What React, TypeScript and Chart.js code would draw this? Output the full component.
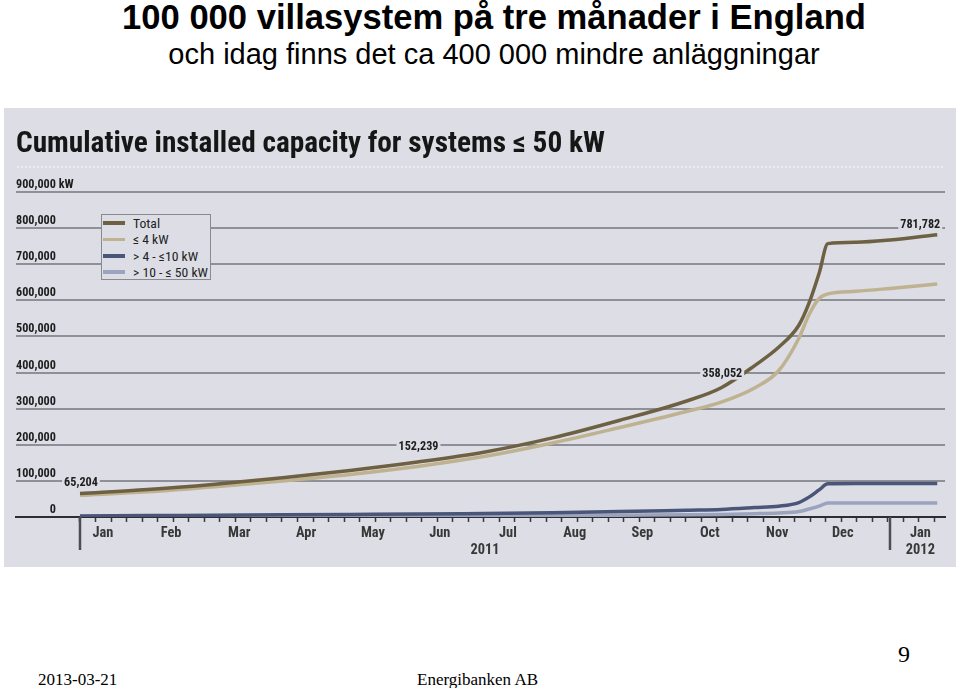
import React, { useEffect, useRef } from "react";
import { Chart, registerables } from "chart.js";

Chart.register(...registerables);

// ---------- texts ----------
const slideTitle = "100 000 villasystem på tre månader i England";
const slideSubtitle = "och idag finns det ca 400 000 mindre anläggningar";
const footerDate = "2013-03-21";
const footerCompany = "Energibanken AB";
const pageNumber = "9";
const chartTitle = "Cumulative installed capacity for systems ≤ 50 kW";

// ---------- series ----------
const seriesNames = ["Total", "≤ 4 kW", "> 4 - ≤10 kW", "> 10 - ≤ 50 kW"];
const seriesColors = ["#6e6042", "#beb291", "#4a5678", "#9ba3be"];

// x = months since 1 Jan 2011
const months = [0, 1, 2, 3, 4, 5, 6, 7, 8, 9, 9.5, 10, 10.35, 10.65, 10.8, 10.95, 11.08, 11.5, 12, 12.7];
const totalKW = [65204, 76000, 91000, 109000, 129000, 152239, 180000, 219000, 268000, 322000, 358052, 420000, 470000, 531000, 592000, 675000, 757000, 761000, 767000, 781782];
const upTo4KW = [60000, 70000, 84000, 100000, 118000, 140000, 168000, 205000, 248000, 293000, 318000, 358000, 405000, 495000, 560000, 605000, 618000, 625000, 633000, 645000];
const from4To10KW = [3000, 4000, 5000, 6000, 7000, 8000, 10000, 12000, 15000, 19000, 21000, 26000, 30000, 40000, 55000, 75000, 92000, 93000, 93000, 93000];
const from10To50KW = [1500, 2000, 2000, 2500, 3000, 3000, 3500, 4000, 5000, 6000, 7000, 9000, 11000, 15000, 22000, 30000, 39000, 39000, 39000, 39000];

// ---------- axes ----------
const yTickLabels = ["0", "100,000", "200,000", "300,000", "400,000", "500,000", "600,000", "700,000", "800,000", "900,000"];
const yUnit = "kW";
const monthLabels = ["Jan", "Feb", "Mar", "Apr", "May", "Jun", "Jul", "Aug", "Sep", "Oct", "Nov", "Dec", "Jan"];
const monthLabelPos = [0.34, 1.35, 2.36, 3.35, 4.34, 5.33, 6.34, 7.33, 8.33, 9.33, 10.33, 11.3, 12.45];
const yearLabels = ["2011", "2012"];
const yearLabelPos = [6.0, 12.45];
const yearBoundaries = [0, 12];

// ---------- annotations ----------
const annotationMonths = [0, 5, 9.5, 12.7];
const annotationValues = [65204, 152239, 358052, 781782];

// ---------- fonts ----------
function fontAvailable(name: string): boolean {
  const c = document.createElement("canvas").getContext("2d");
  if (!c) return false;
  const s = "abcdefghijklmnopqrstuvwxyzABCDEFGHIJKLMNOPQRSTUVWXYZ0123456789,";
  c.font = "40px monospace";
  const m = c.measureText(s).width;
  c.font = "40px serif";
  const se = c.measureText(s).width;
  c.font = `40px "${name}", monospace`;
  const a = c.measureText(s).width;
  c.font = `40px "${name}", serif`;
  const b = c.measureText(s).width;
  return a !== m || b !== se;
}
const candidates = ["Roboto Condensed", "Liberation Sans Narrow", "Arial Narrow", "Noto Sans Condensed", "Open Sans Condensed", "DejaVu Sans Condensed"];
const narrowName = candidates.find((n) => fontAvailable(n)) || "Roboto";
const NARROW = `"${narrowName}", "DejaVu Sans Condensed", sans-serif`;

function fitSize(text: string, weight: string, target: number, lo: number, hi: number): number {
  const c = document.createElement("canvas").getContext("2d");
  if (!c) return hi;
  c.font = `${weight} 20px ${NARROW}`;
  const w = c.measureText(text).width;
  const s = (20 * target) / w;
  return Math.max(lo, Math.min(hi, s));
}
const titleSize = fitSize(chartTitle, "bold", 589, 20, 30);
const yLabelSize = fitSize("900,000", "bold", 40, 9, 13);
const xLabelSize = fitSize("May", "bold", 24, 10, 14.5);
const annSize = fitSize("152,239", "bold", 40, 9, 13);
const legendSize = fitSize("> 10 - ≤ 50 kW", "normal", 75, 10, 14);

const BG = "#dcdde5";
const X_MIN = -0.948;
const X_MAX = 12.815;
const WEEK = 12 / 52.14;

function toXY(values: number[]) {
  return values.map((v, i) => ({ x: months[i], y: v }));
}

const labelMap: Record<string, string[]> = {};
monthLabelPos.forEach((p, i) => {
  labelMap[p.toFixed(3)] = [monthLabels[i]];
});
yearLabelPos.forEach((p, i) => {
  const k = p.toFixed(3);
  if (labelMap[k]) labelMap[k] = [labelMap[k][0], yearLabels[i]];
  else labelMap[k] = ["", yearLabels[i]];
});
const labelKeys = new Set(Object.keys(labelMap));

const decorPlugin = {
  id: "decor",
  afterDraw(chart: any) {
    const { ctx, chartArea, scales } = chart;
    const xs = scales.x;
    const ys = scales.y;
    ctx.save();
    // dotted separator under the chart title
    ctx.strokeStyle = "#f6f6fa";
    ctx.lineWidth = 1.6;
    ctx.setLineDash([1.6, 2.4]);
    ctx.beginPath();
    ctx.moveTo(chartArea.left + 1, chartArea.top - 25);
    ctx.lineTo(chartArea.right, chartArea.top - 25);
    ctx.stroke();
    ctx.setLineDash([]);

    // year dividers below the axis
    ctx.strokeStyle = "#4e4e52";
    ctx.lineWidth = 2.5;
    yearBoundaries.forEach((b) => {
      const px = xs.getPixelForValue(b);
      ctx.beginPath();
      ctx.moveTo(px, chartArea.bottom);
      ctx.lineTo(px, chartArea.bottom + 33);
      ctx.stroke();
    });

    // unit after the top y label
    ctx.font = `bold ${yLabelSize}px ${NARROW}`;
    ctx.fillStyle = "#1c1c1c";
    ctx.textAlign = "left";
    ctx.textBaseline = "middle";
    const topW = ctx.measureText(yTickLabels[yTickLabels.length - 1]).width;
    ctx.fillText(" " + yUnit, chartArea.left + topW, ys.getPixelForValue(900000) - 7);

    // value annotations
    const dy = [-11, -15, -14, -10];
    ctx.font = `bold ${annSize}px ${NARROW}`;
    annotationMonths.forEach((m, i) => {
      const px = xs.getPixelForValue(m);
      const py = ys.getPixelForValue(annotationValues[i]);
      const text = annotationValues[i].toLocaleString("en-US");
      const last = i === annotationMonths.length - 1;
      const w = ctx.measureText(text).width;
      const tx = last ? px + 3 - w : px + 1 - w / 2;
      const ty = py + dy[i];
      ctx.fillStyle = BG;
      ctx.fillRect(tx - 2, ty - 6, w + 4, 12);
      ctx.fillStyle = "#1e1e1e";
      ctx.textAlign = "left";
      ctx.fillText(text, tx, ty);
    });
    ctx.restore();
  },
};

export default function App() {
  const canvasRef = useRef<HTMLCanvasElement>(null);

  useEffect(() => {
    const canvas = canvasRef.current;
    if (!canvas) return;
    const datasets = [totalKW, upTo4KW, from4To10KW, from10To50KW].map((vals, i) => ({
      label: seriesNames[i],
      data: toXY(vals),
      borderColor: seriesColors[i],
      backgroundColor: seriesColors[i],
      borderWidth: 3.5,
      pointRadius: 0,
      cubicInterpolationMode: "monotone" as const,
      fill: false,
    }));

    const chart = new Chart(canvas, {
      type: "line",
      data: { datasets },
      options: {
        animation: false,
        responsive: true,
        maintainAspectRatio: false,
        layout: { padding: { left: 12, right: 11, top: 0, bottom: 8 } },
        plugins: {
          legend: { display: false },
          tooltip: { enabled: false },
          title: {
            display: true,
            text: chartTitle,
            align: "start",
            color: "#161616",
            font: { family: NARROW, size: titleSize, weight: "bold", lineHeight: "34px" },
            padding: { top: 20, bottom: 30 },
          },
        },
        scales: {
          x: {
            type: "linear",
            min: X_MIN,
            max: X_MAX,
            afterFit: (scale: any) => {
              scale.height = 42;
            },
            afterBuildTicks: (scale: any) => {
              const t: { value: number }[] = [];
              for (let v = 0; v <= X_MAX + 1e-9; v += WEEK) t.push({ value: v });
              Object.keys(labelMap).forEach((k) => t.push({ value: parseFloat(k) }));
              scale.ticks = t;
            },
            grid: {
              display: true,
              drawOnChartArea: false,
              drawTicks: true,
              tickLength: 5,
              tickWidth: 1.5,
              tickColor: (c: any) =>
                c.tick && labelKeys.has(Number(c.tick.value).toFixed(3)) ? "rgba(0,0,0,0)" : "#3a3a3e",
            },
            border: { display: true, color: "#2e2e32", width: 2 },
            ticks: {
              autoSkip: false,
              maxRotation: 0,
              minRotation: 0,
              padding: 3,
              color: "#383838",
              font: { family: NARROW, size: xLabelSize, weight: "bold", lineHeight: "17px" },
              callback: (v: any) => {
                const k = Number(v).toFixed(3);
                return labelMap[k] ? labelMap[k] : "";
              },
            },
          },
          y: {
            type: "linear",
            min: 0,
            max: 900000,
            afterFit: (scale: any) => {
              scale.width = 0;
            },
            grid: {
              drawTicks: false,
              lineWidth: 2,
              color: (c: any) => (c.tick && c.tick.value === 0 ? "#1a1a1a" : "#8e8f97"),
            },
            border: { display: false },
            ticks: {
              stepSize: 100000,
              mirror: true,
              crossAlign: "far",
              padding: 0,
              labelOffset: -7,
              color: "#1c1c1c",
              font: { family: NARROW, size: yLabelSize, weight: "bold" },
              callback: (_v: any, i: number) => yTickLabels[i],
            },
          },
        },
      },
      plugins: [decorPlugin],
    } as any);
    return () => chart.destroy();
  }, []);

  return (
    <div style={{ position: "absolute", left: 0, top: 0, width: 960, height: 688, background: "#ffffff", overflow: "hidden" }}>
      <div
        style={{
          position: "absolute", left: 14, top: 0, width: 960, textAlign: "center",
          fontFamily: '"Liberation Sans", Arial, sans-serif', fontWeight: "bold", fontSize: 34.6, lineHeight: "34px", color: "#000",
          whiteSpace: "nowrap",
        }}
      >
        {slideTitle}
      </div>
      <div
        style={{
          position: "absolute", left: 14, top: 40, width: 960, textAlign: "center",
          fontFamily: '"Liberation Sans", Arial, sans-serif', fontSize: 29, lineHeight: "29px", color: "#000",
          whiteSpace: "nowrap",
        }}
      >
        {slideSubtitle}
      </div>

      <div style={{ position: "absolute", left: 4, top: 108, width: 952, height: 459, background: BG }}>
        <canvas ref={canvasRef} style={{ display: "block" }} />
        <div
          style={{
            position: "absolute", left: 97, top: 105.5, width: 110, height: 66, boxSizing: "border-box",
            border: "1px solid #8a8a8e", background: BG, paddingTop: 0.55,
          }}
        >
          {seriesNames.map((n, i) => (
            <div key={n} style={{ display: "flex", alignItems: "center", height: 16.3 }}>
              <span style={{ display: "inline-block", flex: "none", marginLeft: 1, width: 22, height: 3.5, background: seriesColors[i] }} />
              <span
                style={{
                  marginLeft: 8, fontFamily: NARROW, fontSize: legendSize, color: "#222", lineHeight: "16px", whiteSpace: "nowrap",
                }}
              >
                {n}
              </span>
            </div>
          ))}
        </div>
      </div>

      <div style={{ position: "absolute", left: 38, top: 671, fontFamily: '"Liberation Serif", "Times New Roman", serif', fontSize: 17, lineHeight: "17px", color: "#000" }}>
        {footerDate}
      </div>
      <div style={{ position: "absolute", left: 417, top: 671, fontFamily: '"Liberation Serif", "Times New Roman", serif', fontSize: 17, lineHeight: "17px", color: "#000", whiteSpace: "nowrap" }}>
        {footerCompany}
      </div>
      <div style={{ position: "absolute", left: 898, top: 642, fontFamily: '"Liberation Serif", "Times New Roman", serif', fontSize: 24, lineHeight: "24px", color: "#000" }}>
        {pageNumber}
      </div>
    </div>
  );
}
